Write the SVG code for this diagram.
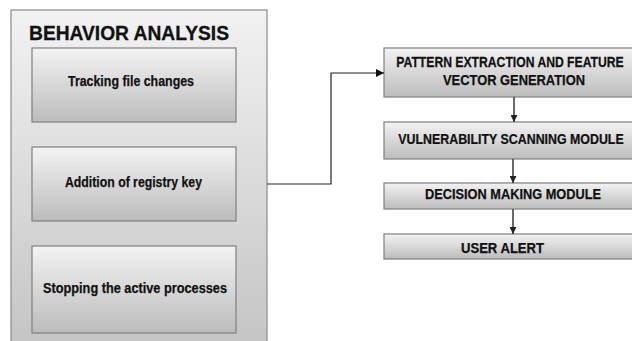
<svg xmlns="http://www.w3.org/2000/svg" width="632" height="341" viewBox="0 0 632 341">
  <defs>
    <linearGradient id="gOuter" x1="0" y1="0" x2="0" y2="1">
      <stop offset="0" stop-color="#f2f2f2"/>
      <stop offset="1" stop-color="#c4c4c4"/>
    </linearGradient>
    <linearGradient id="gBox" x1="0" y1="0" x2="0" y2="1">
      <stop offset="0" stop-color="#f3f3f3"/>
      <stop offset="1" stop-color="#bcbcbc"/>
    </linearGradient>
    <marker id="arrow" viewBox="0 0 10 10" refX="10" refY="5" markerWidth="8" markerHeight="8" markerUnits="userSpaceOnUse" orient="auto">
      <path d="M0,0 L10,5 L0,10 Z" fill="#111"/>
    </marker>
    <marker id="arrowDown" viewBox="0 0 10 10" refX="10" refY="5" markerWidth="7" markerHeight="7" markerUnits="userSpaceOnUse" orient="auto">
      <path d="M0,0 L10,5 L0,10 Z" fill="#222"/>
    </marker>
  </defs>
  <style>
    .outer { fill: url(#gOuter); stroke: #8a8a8a; stroke-width: 1.2; }
    .box { fill: url(#gBox); stroke: #7f7f7f; stroke-width: 1.2; }
    .t { font-family: "Liberation Sans", Arial, sans-serif; font-weight: bold; fill: #111; stroke: #111; stroke-width: 0.25; text-anchor: middle; }
    .title { font-family: "Liberation Sans", Arial, sans-serif; font-weight: bold; fill: #111; stroke: #111; stroke-width: 0.3; font-size: 20px; }
    .s { font-size: 14.5px; }
    .m { font-size: 14px; }
    .link { fill: none; stroke: #222; stroke-width: 1.2; }
    .down { fill: none; stroke: #444; stroke-width: 1.6; }
  </style>

  <g id="behavior-analysis">
    <rect class="outer" x="11" y="10" width="256" height="340"/>
    <text class="title" x="29" y="40" textLength="200" lengthAdjust="spacingAndGlyphs">BEHAVIOR ANALYSIS</text>
  </g>

  <g id="tracking-file-changes">
    <rect class="box" x="32" y="48" width="204" height="74"/>
    <text class="t s" x="131" y="86" textLength="126" lengthAdjust="spacingAndGlyphs">Tracking file changes</text>
  </g>

  <g id="addition-of-registry-key">
    <rect class="box" x="32" y="147" width="204" height="74"/>
    <text class="t s" x="133.5" y="187" textLength="137" lengthAdjust="spacingAndGlyphs">Addition of registry key</text>
  </g>

  <g id="stopping-active-processes">
    <rect class="box" x="32" y="246" width="204" height="87"/>
    <text class="t s" x="135" y="293" textLength="184" lengthAdjust="spacingAndGlyphs">Stopping the active processes</text>
  </g>

  <g id="pattern-extraction">
    <rect class="box" x="384" y="48" width="260" height="49"/>
    <text class="t m" transform="translate(510,67) scale(0.87,1)" x="0" y="0">PATTERN EXTRACTION AND FEATURE</text>
    <text class="t m" x="514" y="85" textLength="142" lengthAdjust="spacingAndGlyphs">VECTOR GENERATION</text>
  </g>

  <g id="vulnerability-scanning">
    <rect class="box" x="384" y="122" width="260" height="37"/>
    <text class="t m" transform="translate(511,144) scale(0.885,1)" x="0" y="0">VULNERABILITY SCANNING MODULE</text>
  </g>

  <g id="decision-making">
    <rect class="box" x="384" y="183" width="260" height="26"/>
    <text class="t m" x="513" y="199" textLength="176" lengthAdjust="spacingAndGlyphs">DECISION MAKING MODULE</text>
  </g>

  <g id="user-alert">
    <rect class="box" x="384" y="234" width="260" height="25"/>
    <text class="t m" x="502.5" y="253" textLength="83" lengthAdjust="spacingAndGlyphs">USER ALERT</text>
  </g>

  <g id="connectors">
    <path class="link" d="M267,184 H331 V73 H384" marker-end="url(#arrow)"/>
    <path class="down" d="M514,97 V122" marker-end="url(#arrowDown)"/>
    <path class="down" d="M513,159 V183" marker-end="url(#arrowDown)"/>
    <path class="down" d="M513,209 V234" marker-end="url(#arrowDown)"/>
  </g>
</svg>
